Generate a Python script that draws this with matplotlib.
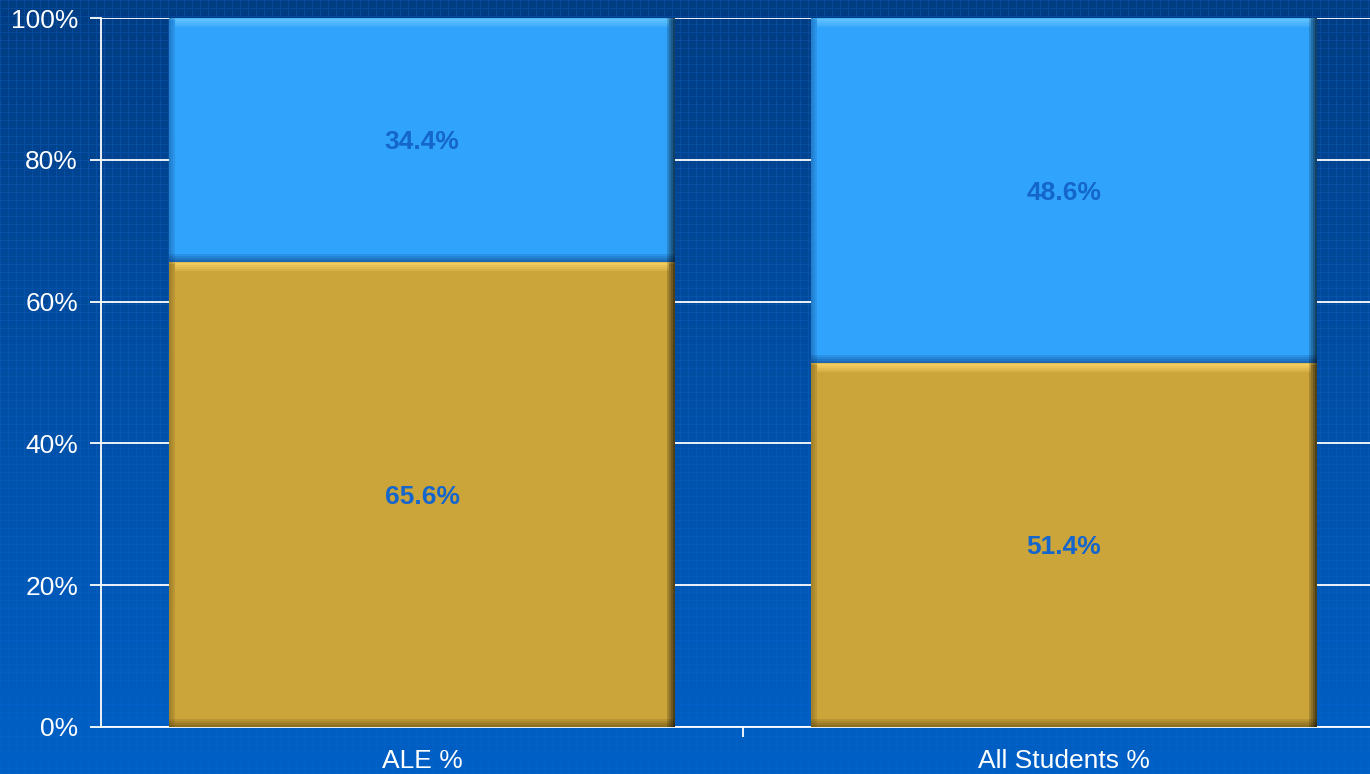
import numpy as np
import matplotlib
matplotlib.use("Agg")
import matplotlib.pyplot as plt
from matplotlib.ticker import FuncFormatter

categories = ["ALE %", "All Students %"]
bottom_values = [65.6, 51.4]
top_values = [34.4, 48.6]
y_ticks = [0, 20, 40, 60, 80, 100]

gold = "#CBA43A"
blue = "#30A4FC"
label_color = "#1466CC"

W, H = 1370, 774
fig = plt.figure(figsize=(W / 100, H / 100), dpi=100)

# background gradient with fine grid pattern
bg_ax = fig.add_axes([0, 0, 1, 1], zorder=-10)
top_c = np.array([0x00, 0x3C, 0x82]) / 255
bot_c = np.array([0x00, 0x60, 0xC6]) / 255
t = np.linspace(0, 1, H)[:, None, None]
img = top_c * (1 - t) + bot_c * t
img = np.repeat(img, W, axis=1)
yy, xx = np.mgrid[0:H, 0:W]
grid_mask = ((xx % 8) == 0) | ((yy % 8) == 0)
strength = 0.10 * (1 - np.linspace(0, 1, H))[:, None] + 0.02
img = img + grid_mask[:, :, None] * strength[:, :, None] * np.array([0.25, 0.45, 0.7])
img = np.clip(img, 0, 1)
bg_ax.imshow(img, aspect="auto", extent=[0, 1, 0, 1], interpolation="nearest")
bg_ax.axis("off")

# plot axes: left 101px, bottom 727px, top 18px, width 1284px (extends past right edge)
left = 101 / W
bottom = (H - 727) / H
height = (727 - 18) / H
width = 1284 / W
ax = fig.add_axes([left, bottom, width, height])
ax.set_facecolor("none")
ax.patch.set_alpha(0)

x = np.arange(len(categories))
bw = 0.787
ax.set_xlim(-0.5, 1.5)
ax.set_ylim(0, 100)

bars_b = ax.bar(x, bottom_values, bw, color=gold, zorder=3)
bars_t = ax.bar(x, top_values, bw, bottom=bottom_values, color=blue, zorder=3)

# bevel decorations derived from the bars
px_y = 100 / (727 - 18)
px_x = 2 / 1284
def bevel(bars, light, dark):
    for r in bars:
        x0, y0, w, h = r.get_x(), r.get_y(), r.get_width(), r.get_height()
        # top highlight (gradient)
        for i, a in enumerate([0.9, 0.7, 0.5, 0.3]):
            ax.add_patch(plt.Rectangle((x0 + 6 * px_x, y0 + h - (3 + 2 * i) * px_y),
                                       w - 12 * px_x, 2 * px_y,
                                       color=light, alpha=a, zorder=4, lw=0))
        ax.add_patch(plt.Rectangle((x0, y0 + h - 2 * px_y), w, 2 * px_y,
                                   color=light, alpha=0.5, zorder=4, lw=0))
        # bottom shadow
        for i in range(4):
            ax.add_patch(plt.Rectangle((x0, y0 + i * 2 * px_y), w, 2 * px_y,
                                       color=dark, alpha=0.55 - i * 0.13, zorder=4, lw=0))
        # right shadow
        for i in range(4):
            ax.add_patch(plt.Rectangle((x0 + w - (i + 1) * 2 * px_x, y0), 2 * px_x, h,
                                       color="black", alpha=0.6 - i * 0.14, zorder=4, lw=0))
        # left slight shade
        for i in range(3):
            ax.add_patch(plt.Rectangle((x0 + i * 2 * px_x, y0), 2 * px_x, h,
                                       color=dark, alpha=0.35 - i * 0.1, zorder=4, lw=0))

bevel(bars_b, "#F5D062", "#5A4410")
bevel(bars_t, "#62C4FF", "#0A3A7A")

fs = 19
for r, v in zip(bars_b, bottom_values):
    ax.text(r.get_x() + r.get_width() / 2, r.get_y() + r.get_height() / 2 - 0.35, f"{v:.1f}%",
            ha="center", va="center", color=label_color, fontsize=fs, fontweight="bold",
            family="Liberation Sans", zorder=6)
for r, v in zip(bars_t, top_values):
    ax.text(r.get_x() + r.get_width() / 2, r.get_y() + r.get_height() / 2 - 0.35, f"{v:.1f}%",
            ha="center", va="center", color=label_color, fontsize=fs, fontweight="bold",
            family="Liberation Sans", zorder=6)

ax.set_yticks(y_ticks)
ax.yaxis.set_major_formatter(FuncFormatter(lambda v, p: f"{v:.0f}%"))
ax.grid(axis="y", color="white", lw=1.3, zorder=1)
ax.set_xticks([0.5])
ax.set_xticklabels([""])
ax.tick_params(axis="x", length=7, color="white", width=1.3, direction="out")
ax.tick_params(axis="y", length=8, color="white", width=1.3, labelcolor="white",
               labelsize=fs, pad=8.5)
for lbl in ax.get_yticklabels():
    lbl.set_family("Liberation Sans")
for i, c in enumerate(categories):
    ax.text(i, -3.1, c, ha="center", va="top", color="white", fontsize=fs,
            family="Liberation Sans", transform=ax.transData)
for s in ["top", "right"]:
    ax.spines[s].set_visible(False)
ax.spines["left"].set_color("white")
ax.spines["bottom"].set_color("white")
ax.spines["left"].set_linewidth(1.3)
ax.spines["bottom"].set_linewidth(1.3)

fig.savefig("out.png", dpi=100)
